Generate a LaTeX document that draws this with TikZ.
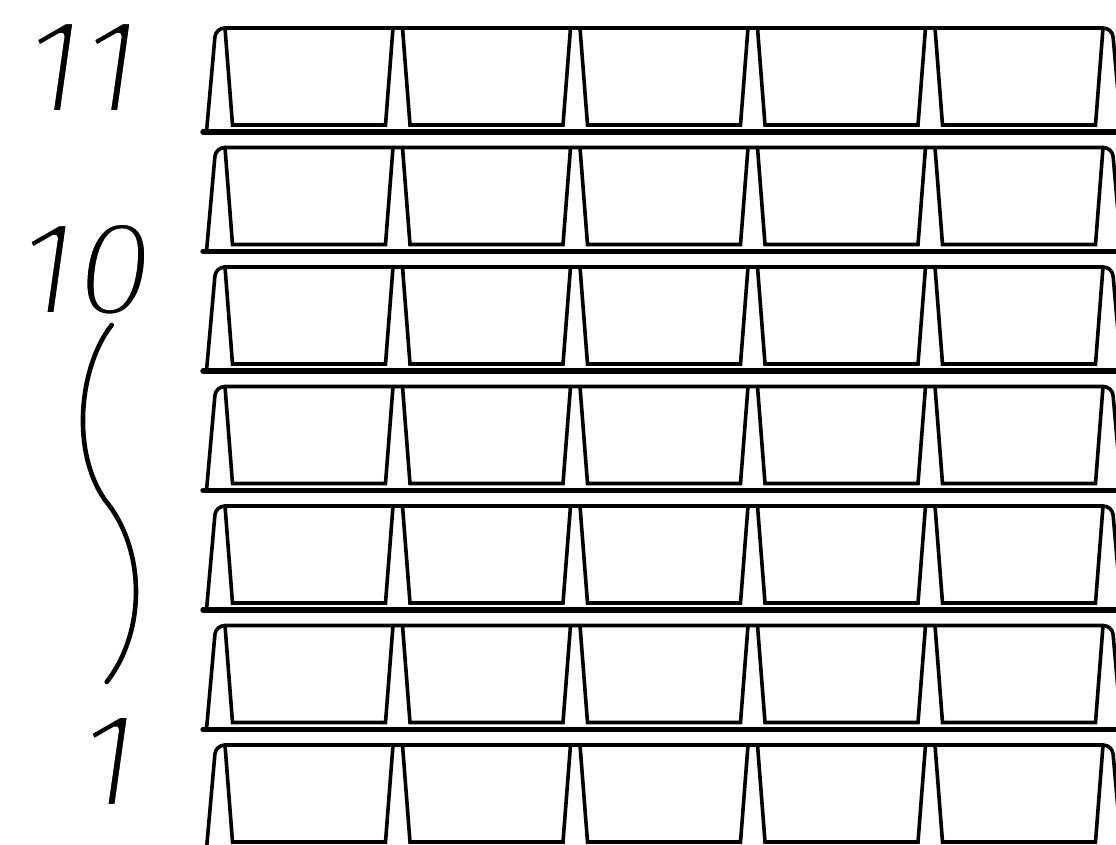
\documentclass[tikz,border=0pt]{standalone}
\usepackage{fontspec}
\newfontfamily\lab{Fira Sans}[UprightFont=*-Italic]
\newcommand\thinglyph[1]{\special{pdf:literal direct 2 Tr 6.5 w 1 j 1 J 1 1 1 RG}#1\special{pdf:literal direct 0 Tr 0 0 0 RG}}
\begin{document}
\begin{tikzpicture}[x=1pt,y=-1pt,
  edge/.style={line width=3.6pt,line cap=round},
  floorln/.style={line width=5.4pt,line cap=round},
  leader/.style={line width=4.6pt,line cap=round},
  lbl/.style={font=\lab\fontsize{138}{138}\selectfont,inner sep=0pt,anchor=base}]
\useasboundingbox (0,0) rectangle (1116,844);
\fill[white] (0,0) rectangle (1116,844);
\begin{scope}
\clip (0,0) rectangle (1116,844);
\foreach \j in {0,...,6}{
  \pgfmathsetmacro\T{28+119.5*\j}
  \pgfmathsetmacro\B{\T+97}
  \pgfmathsetmacro\F{\T+104}
  \draw[edge,line join=round,rounded corners=9pt] (206.5,\F) -- (215.7,\T) -- (1112.3,\T) -- (1121.5,\F);
  \foreach \i in {0,...,4}{
    \pgfmathsetmacro\X{225+177.5*\i}
    \draw[edge] (\X,\T) -- ({\X+7.5},\B) -- ({\X+160.5},\B) -- ({\X+168},\T);
  }
  \draw[floorln] (203,\F) -- (1130,\F);
}
\end{scope}
\coordinate (c0) at (111.7,325);
\coordinate (c1) at (105,500);
\coordinate (c2) at (106.7,682);
\draw[leader] (c0) .. controls (80,365) and (70,450) .. (c1) .. controls (145,548) and (147,630) .. (c2);
\node[lbl] (l11) at (82,113.3) {\thinglyph{11}};
\node[lbl] (l10) at (85,315.3) {\thinglyph{10}};
\node[lbl] (l1) at (108,807) {\thinglyph{1}};
\end{tikzpicture}
\end{document}
